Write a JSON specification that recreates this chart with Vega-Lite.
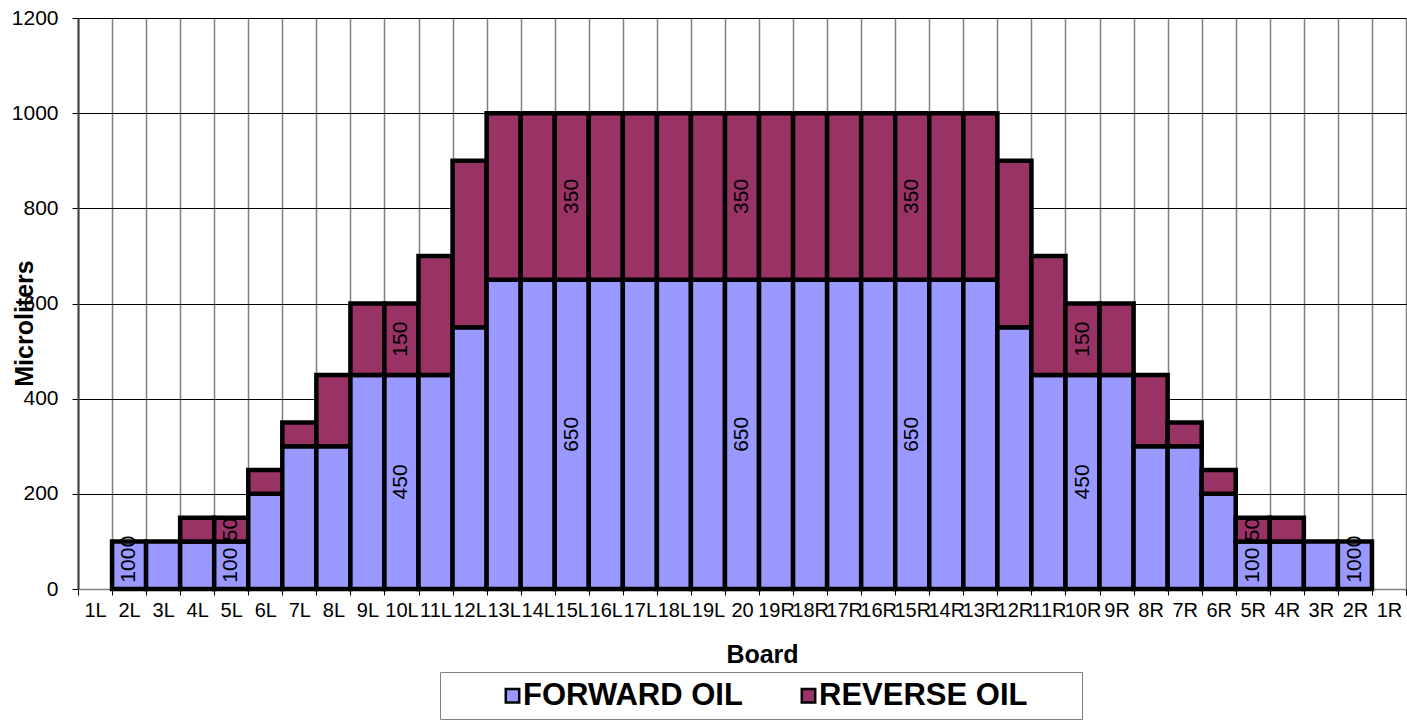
{
  "$schema": "https://vega.github.io/schema/vega-lite/v6.json",
  "width": 1328,
  "height": 571,
  "autosize": {"type": "none"},
  "padding": {"left": 78, "top": 18, "right": 1, "bottom": 131},
  "background": "white",
  "data": {
    "values": [
      {"Board": "1L", "Type": "FORWARD OIL", "ml": 0}, {"Board": "1L", "Type": "REVERSE OIL", "ml": 0},
      {"Board": "2L", "Type": "FORWARD OIL", "ml": 100}, {"Board": "2L", "Type": "REVERSE OIL", "ml": 0},
      {"Board": "3L", "Type": "FORWARD OIL", "ml": 100}, {"Board": "3L", "Type": "REVERSE OIL", "ml": 0},
      {"Board": "4L", "Type": "FORWARD OIL", "ml": 100}, {"Board": "4L", "Type": "REVERSE OIL", "ml": 50},
      {"Board": "5L", "Type": "FORWARD OIL", "ml": 100}, {"Board": "5L", "Type": "REVERSE OIL", "ml": 50},
      {"Board": "6L", "Type": "FORWARD OIL", "ml": 200}, {"Board": "6L", "Type": "REVERSE OIL", "ml": 50},
      {"Board": "7L", "Type": "FORWARD OIL", "ml": 300}, {"Board": "7L", "Type": "REVERSE OIL", "ml": 50},
      {"Board": "8L", "Type": "FORWARD OIL", "ml": 300}, {"Board": "8L", "Type": "REVERSE OIL", "ml": 150},
      {"Board": "9L", "Type": "FORWARD OIL", "ml": 450}, {"Board": "9L", "Type": "REVERSE OIL", "ml": 150},
      {"Board": "10L", "Type": "FORWARD OIL", "ml": 450}, {"Board": "10L", "Type": "REVERSE OIL", "ml": 150},
      {"Board": "11L", "Type": "FORWARD OIL", "ml": 450}, {"Board": "11L", "Type": "REVERSE OIL", "ml": 250},
      {"Board": "12L", "Type": "FORWARD OIL", "ml": 550}, {"Board": "12L", "Type": "REVERSE OIL", "ml": 350},
      {"Board": "13L", "Type": "FORWARD OIL", "ml": 650}, {"Board": "13L", "Type": "REVERSE OIL", "ml": 350},
      {"Board": "14L", "Type": "FORWARD OIL", "ml": 650}, {"Board": "14L", "Type": "REVERSE OIL", "ml": 350},
      {"Board": "15L", "Type": "FORWARD OIL", "ml": 650}, {"Board": "15L", "Type": "REVERSE OIL", "ml": 350},
      {"Board": "16L", "Type": "FORWARD OIL", "ml": 650}, {"Board": "16L", "Type": "REVERSE OIL", "ml": 350},
      {"Board": "17L", "Type": "FORWARD OIL", "ml": 650}, {"Board": "17L", "Type": "REVERSE OIL", "ml": 350},
      {"Board": "18L", "Type": "FORWARD OIL", "ml": 650}, {"Board": "18L", "Type": "REVERSE OIL", "ml": 350},
      {"Board": "19L", "Type": "FORWARD OIL", "ml": 650}, {"Board": "19L", "Type": "REVERSE OIL", "ml": 350},
      {"Board": "20", "Type": "FORWARD OIL", "ml": 650}, {"Board": "20", "Type": "REVERSE OIL", "ml": 350},
      {"Board": "19R", "Type": "FORWARD OIL", "ml": 650}, {"Board": "19R", "Type": "REVERSE OIL", "ml": 350},
      {"Board": "18R", "Type": "FORWARD OIL", "ml": 650}, {"Board": "18R", "Type": "REVERSE OIL", "ml": 350},
      {"Board": "17R", "Type": "FORWARD OIL", "ml": 650}, {"Board": "17R", "Type": "REVERSE OIL", "ml": 350},
      {"Board": "16R", "Type": "FORWARD OIL", "ml": 650}, {"Board": "16R", "Type": "REVERSE OIL", "ml": 350},
      {"Board": "15R", "Type": "FORWARD OIL", "ml": 650}, {"Board": "15R", "Type": "REVERSE OIL", "ml": 350},
      {"Board": "14R", "Type": "FORWARD OIL", "ml": 650}, {"Board": "14R", "Type": "REVERSE OIL", "ml": 350},
      {"Board": "13R", "Type": "FORWARD OIL", "ml": 650}, {"Board": "13R", "Type": "REVERSE OIL", "ml": 350},
      {"Board": "12R", "Type": "FORWARD OIL", "ml": 550}, {"Board": "12R", "Type": "REVERSE OIL", "ml": 350},
      {"Board": "11R", "Type": "FORWARD OIL", "ml": 450}, {"Board": "11R", "Type": "REVERSE OIL", "ml": 250},
      {"Board": "10R", "Type": "FORWARD OIL", "ml": 450}, {"Board": "10R", "Type": "REVERSE OIL", "ml": 150},
      {"Board": "9R", "Type": "FORWARD OIL", "ml": 450}, {"Board": "9R", "Type": "REVERSE OIL", "ml": 150},
      {"Board": "8R", "Type": "FORWARD OIL", "ml": 300}, {"Board": "8R", "Type": "REVERSE OIL", "ml": 150},
      {"Board": "7R", "Type": "FORWARD OIL", "ml": 300}, {"Board": "7R", "Type": "REVERSE OIL", "ml": 50},
      {"Board": "6R", "Type": "FORWARD OIL", "ml": 200}, {"Board": "6R", "Type": "REVERSE OIL", "ml": 50},
      {"Board": "5R", "Type": "FORWARD OIL", "ml": 100}, {"Board": "5R", "Type": "REVERSE OIL", "ml": 50},
      {"Board": "4R", "Type": "FORWARD OIL", "ml": 100}, {"Board": "4R", "Type": "REVERSE OIL", "ml": 50},
      {"Board": "3R", "Type": "FORWARD OIL", "ml": 100}, {"Board": "3R", "Type": "REVERSE OIL", "ml": 0},
      {"Board": "2R", "Type": "FORWARD OIL", "ml": 100}, {"Board": "2R", "Type": "REVERSE OIL", "ml": 0},
      {"Board": "1R", "Type": "FORWARD OIL", "ml": 0}, {"Board": "1R", "Type": "REVERSE OIL", "ml": 0}
    ]
  },
  "transform": [
    {"stack": "ml", "groupby": ["Board"], "sort": [{"field": "Type", "order": "ascending"}], "as": ["s0", "s1"]}
  ],
  "layer": [
    {
      "transform": [{"filter": {"field": "ml", "gt": 0}}],
      "mark": {"type": "bar", "stroke": "#000000", "strokeWidth": 4.5, "strokeJoin": "miter"},
      "encoding": {
        "x": {
          "field": "Board", "type": "nominal",
          "scale": {
            "domain": ["1L","2L","3L","4L","5L","6L","7L","8L","9L","10L","11L","12L","13L","14L","15L","16L","17L","18L","19L","20","19R","18R","17R","16R","15R","14R","13R","12R","11R","10R","9R","8R","7R","6R","5R","4R","3R","2R","1R"],
            "paddingInner": 0, "paddingOuter": 0
          },
          "axis": {
            "title": "Board", "grid": true, "tickBand": "extent", "labelAngle": 0,
            "gridColor": "#808080", "gridWidth": 1.5, "domainColor": "#808080", "domainWidth": 1.5,
            "tickColor": "#000000", "tickSize": 6, "labelPadding": 5,
            "labelFont": "Liberation Sans", "labelFontSize": 20, "labelColor": "#000000",
            "titleFont": "Liberation Sans", "titleFontSize": 25, "titleFontWeight": "bold", "titleColor": "#000000",
            "titleX": 684, "titleY": 73, "titleBaseline": "alphabetic"
          }
        },
        "y": {
          "field": "s0", "type": "quantitative",
          "scale": {"domain": [0, 1200], "nice": false},
          "axis": {
            "title": "Microliters", "values": [0, 200, 400, 600, 800, 1000, 1200], "format": "d", "grid": true,
            "gridColor": "#000000", "gridWidth": 1, "domainColor": "#404040", "domainWidth": 2,
            "tickColor": "#000000", "tickSize": 6, "labelPadding": 14,
            "labelFont": "Liberation Sans", "labelFontSize": 21, "labelColor": "#000000",
            "titleFont": "Liberation Sans", "titleFontSize": 25, "titleFontWeight": "bold", "titleColor": "#000000",
            "titleX": -41, "titleY": 305
          }
        },
        "y2": {"field": "s1"},
        "color": {
          "field": "Type", "type": "nominal",
          "scale": {"domain": ["FORWARD OIL", "REVERSE OIL"], "range": ["#9999FF", "#993366"]},
          "legend": {
            "orient": "none", "legendX": 362, "legendY": 654, "direction": "horizontal", "columns": 2,
            "title": "\u2800\u2800", "titleOrient": "left", "titleFontSize": 30, "titlePadding": 5,
            "labelExpr": "datum.label == 'REVERSE OIL' ? datum.label + '\u2800\u2800' : datum.label",
            "labelFont": "Liberation Sans", "labelFontSize": 31, "labelFontWeight": "bold", "labelColor": "#000000",
            "labelOffset": -5, "columnPadding": 50, "labelLimit": 500,
            "symbolType": "square", "symbolSize": 180, "symbolStrokeColor": "#000000", "symbolStrokeWidth": 2.5,
            "strokeColor": "#808080", "padding": 8
          }
        }
      }
    },
    {
      "transform": [
        {"filter": {"field": "Board", "oneOf": ["2L", "5L", "10L", "15L", "20", "15R", "10R", "5R", "2R"]}},
        {"fold": ["s0", "s1"], "as": ["k", "pos"]}
      ],
      "mark": {"type": "text", "angle": 270, "align": "center", "baseline": "middle", "font": "Liberation Sans", "fontSize": 21, "color": "#000000"},
      "encoding": {
        "x": {"field": "Board", "type": "nominal"},
        "y": {"aggregate": "mean", "field": "pos", "type": "quantitative"},
        "detail": {"field": "Type", "type": "nominal"},
        "text": {"field": "ml", "type": "quantitative"}
      }
    }
  ],
  "config": {"view": {"stroke": null}}
}
